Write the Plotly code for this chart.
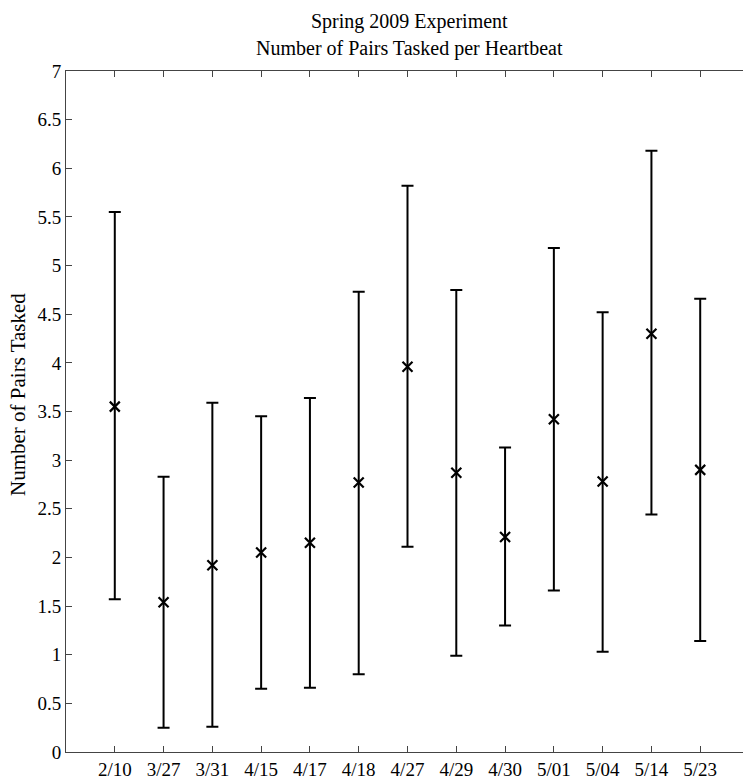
import plotly.graph_objects as go

dates = ["2/10", "3/27", "3/31", "4/15", "4/17", "4/18", "4/27",
         "4/29", "4/30", "5/01", "5/04", "5/14", "5/23"]
means = [3.55, 1.54, 1.92, 2.05, 2.15, 2.77, 3.96, 2.87, 2.21, 3.42, 2.78, 4.30, 2.90]
upper = [5.55, 2.83, 3.59, 3.45, 3.64, 4.73, 5.82, 4.75, 3.13, 5.18, 4.52, 6.18, 4.66]
lower = [1.57, 0.25, 0.26, 0.65, 0.66, 0.80, 2.11, 0.99, 1.30, 1.66, 1.03, 2.44, 1.14]
y_ticks = [0, 0.5, 1, 1.5, 2, 2.5, 3, 3.5, 4, 4.5, 5, 5.5, 6, 6.5, 7]
y_tick_text = ["0", "0.5", "1", "1.5", "2", "2.5", "3", "3.5", "4", "4.5",
               "5", "5.5", "6", "6.5", "7"]

xpos = list(range(1, len(dates) + 1))
err_plus = [u - m for u, m in zip(upper, means)]
err_minus = [m - l for m, l in zip(means, lower)]

font_family = "Liberation Serif"
# The original axes box runs slightly past the right edge of the 743 px picture;
# the figure is 749 px wide and the page clips it at the window edge.
W, H = 749, 780
ML, MT, MB = 66, 71, 28

fig = go.Figure()
fig.add_trace(go.Scatter(
    x=xpos, y=means, mode="markers",
    marker=dict(symbol="x-thin-open", size=10, color="black",
                line=dict(color="black", width=2.2)),
    error_y=dict(type="data", symmetric=False, array=err_plus,
                 arrayminus=err_minus, color="black", thickness=2, width=6),
    showlegend=False,
))

plot_h = H - MT - MB
plot_w = W - ML

def px_to_paper(px_x, px_y):
    return (px_x - ML) / plot_w, (H - MB - px_y) / plot_h

t1x, t1y = px_to_paper(409, 21.5)
t2x, t2y = px_to_paper(409, 48.5)
ylx, yly = px_to_paper(18, 395)

fig.update_layout(
    width=W, height=H,
    margin=dict(l=ML, r=0, t=MT, b=MB),
    paper_bgcolor="white", plot_bgcolor="white",
    font=dict(family=font_family, size=19, color="black"),
    xaxis=dict(range=[0, 14], tickmode="array", tickvals=xpos, ticktext=dates,
               ticks="inside", ticklen=6, tickcolor="#444", showgrid=False,
               zeroline=False, showline=True, linecolor="#444", linewidth=1,
               mirror="ticks", tickfont=dict(size=19)),
    yaxis=dict(range=[0, 7], tickmode="array", tickvals=y_ticks, ticktext=y_tick_text,
               ticks="inside", ticklen=6, tickcolor="#444", showgrid=False,
               zeroline=False, showline=True, linecolor="#444", linewidth=1,
               mirror="ticks", tickfont=dict(size=19)),
    annotations=[
        dict(text="Spring 2009 Experiment", x=t1x, y=t1y, xref="paper", yref="paper",
             showarrow=False, yanchor="middle", font=dict(size=20)),
        dict(text="Number of Pairs Tasked per Heartbeat", x=t2x, y=t2y, xref="paper",
             yref="paper", showarrow=False, yanchor="middle", font=dict(size=20)),
        dict(text="Number of Pairs Tasked", x=ylx, y=yly, xref="paper", yref="paper",
             showarrow=False, textangle=-90, xanchor="center", yanchor="middle",
             font=dict(size=21)),
    ],
)

fig.write_html("out.html", config={"displayModeBar": False},
               post_script="document.body.style.margin='0';document.body.style.overflow='hidden';"
                           "document.documentElement.style.overflow='hidden';")
